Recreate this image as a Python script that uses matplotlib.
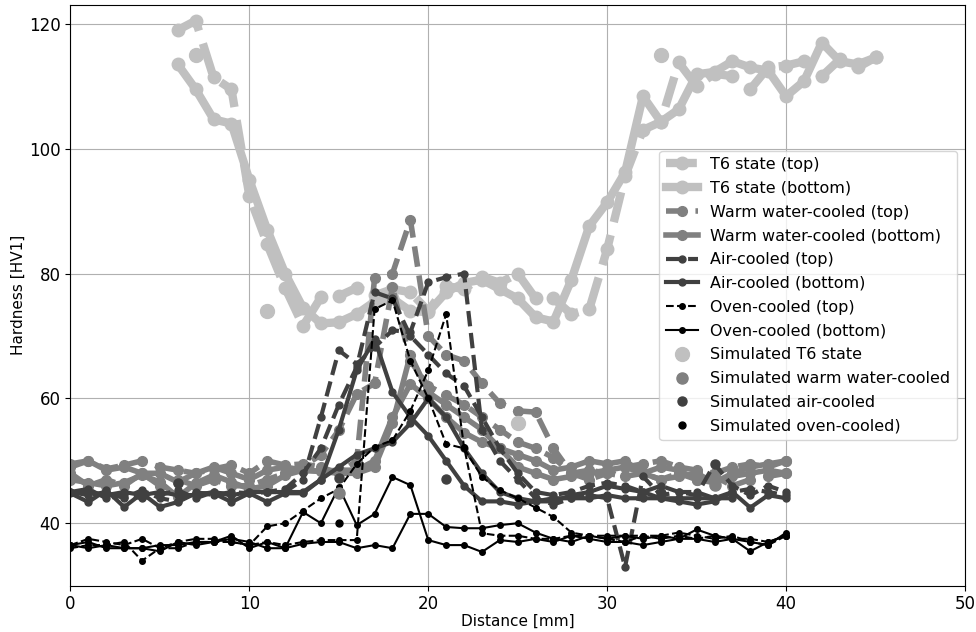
import numpy as np
import matplotlib
matplotlib.use('Agg')
import matplotlib.pyplot as plt

plt.rcParams['font.size'] = 12

# distance positions
x_t6 = list(range(6, 46))
x_all = list(range(0, 41))
x_air_b2 = list(range(0, 38))

# T6 state
t6_top = [119, 120.5, 111.4, 109.5, 92.4, 84.7, 77.7, 71.6, 76.2, 76.4,
          77.7, 76.5, 77.5, 77, 74, 78, 77.5, 79.5, 78.5, 80,
          76, 76, 73.5, 74.3, 83.9, 95.6, 103, 104.3, 113.8, 110,
          112, 111.6, 109.5, 113, 113.3, 114, 111.6, 114.3, 113, 114.6]
t6_bot = [113.5, 109.5, 104.7, 104, 95, 87, 80, 74.5, 72, 72.2,
          73.5, 75.5, 76, 74, 73.8, 77, 78.5, 79, 77.5, 76,
          73, 72.3, 79, 87.6, 91.4, 96.2, 108.4, 104.3, 106.3, 111.9,
          112.3, 114, 113, 112.5, 108.4, 110.8, 117, 114, 113.5, 114.6]

# warm water-cooled
warm_top1 = [49.5, 50, 48.7, 49.3, 50, 49, 48.5, 48, 48.7, 49.3,
             48, 50, 49.3, 49.5, 49, 48, 50, 79.3, 80, 88.6,
             70, 67, 66, 62.4, 59.2, 58, 57.8, 52, 48, 48.5,
             48, 49, 49.5, 50, 49, 48.5, 48, 49, 49.5, 49, 50]
warm_top2 = [48, 46, 47, 46, 48, 46, 47, 46, 47, 46,
             46, 47, 48, 49, 51, 54.9, 60.7, 62.4, 77.8, 66,
             62, 60.5, 59, 57, 55, 53, 52, 50.5, 48, 47,
             48, 47.5, 48, 47, 48, 47, 47.5, 46, 47, 47.5, 48]
warm_bot1 = [47, 46.5, 46, 46.5, 47.7, 46.6, 44.2, 46.4, 47.7, 46.6,
             45.5, 46, 47.7, 48.5, 48.3, 48, 48, 49, 56, 67,
             61, 59, 57, 55, 52, 49, 48, 47, 47.5, 48,
             48.5, 49, 48, 47, 47.5, 48, 46.5, 47.5, 48, 48.5, 48]
warm_bot2 = [49, 50, 48.5, 49, 48, 48, 46.6, 48, 49, 48,
             47, 48.5, 49, 48.5, 48.3, 48.5, 48.5, 50, 57, 62.3,
             60, 57, 54.5, 53, 52, 51, 50, 48.5, 49, 50,
             49.5, 50, 48, 49, 48.5, 47, 46.5, 48, 49, 49.5, 50]

# air-cooled
air_top1 = [45, 44.5, 45, 44, 45.3, 44, 43.5, 45, 44.5, 45,
            44.8, 45, 45, 47, 57, 67.7, 65.5, 68.2, 70.9, 70.6,
            78.6, 79.4, 80, 55, 50, 47, 44, 43, 44, 44.5,
            44, 33, 47.5, 44.5, 45, 45, 44, 45, 45.5, 45, 44.5]
air_top2 = [45, 45.5, 44, 44.5, 44, 44.5, 45.3, 44, 45, 44.5,
            45, 45, 45.5, 48, 52, 59, 65, 77, 76, 70,
            67, 64, 62, 57, 52, 48, 45, 44.5, 45, 46,
            46.5, 46, 45, 46, 45, 44.5, 49.5, 46, 44.5, 46, 45]
air_bot1 = [44.8, 43.4, 45.3, 42.6, 44.8, 42.6, 43.4, 44.8, 44.8, 43.4,
            44.8, 43.4, 44.8, 44.8, 47, 55, 64.5, 69.5, 61, 57,
            54, 50, 46, 43.5, 43.5, 43, 43.5, 43.5, 44.5, 45,
            46, 45.5, 45, 44, 43.5, 43, 43.5, 45, 42.5, 44.5, 44]
air_bot2 = [45, 45, 44.5, 45, 44.5, 45, 44.5, 44.5, 45, 44.5,
            45, 45, 45, 45, 47, 49, 51, 52, 53, 56,
            60, 57, 52, 48, 45, 44, 43.5, 44, 44, 44,
            44.5, 44, 44, 44, 44, 44, 44, 44]

# oven-cooled
oven_top1 = [36.5, 37.5, 37, 36.5, 37.5, 36, 37, 37.5, 37.5, 37,
             36.5, 37, 36.5, 37, 37.3, 37.3, 37.3, 74.3, 75.7, 66,
             60, 52.7, 52, 47.4, 45.3, 44, 42.5, 41, 38.5, 38,
             38, 38, 38, 37.5, 38, 37.5, 38, 37.5, 37.5, 37, 38]
oven_top2 = [36, 36.5, 36.5, 37, 34, 36, 36, 37, 37, 37,
             36.5, 39.5, 40, 42, 44, 45.5, 49.5, 52.2, 53.3, 58,
             64.5, 73.5, 52.2, 38.4, 38, 38, 37.5, 37.5, 38, 38,
             37.5, 37, 38, 38, 38.5, 38, 37.5, 38, 37, 36.5, 38]
oven_bot1 = [36.5, 37, 36, 36, 36, 35.5, 37, 36.5, 37, 38,
             36, 37, 36, 41.8, 40, 45.8, 39.7, 41.5, 47.4, 46.1,
             37.3, 36.5, 36.5, 35.4, 37.3, 37, 37.5, 37, 38, 37.5,
             37, 37, 36.5, 37, 37.5, 37.5, 37, 37.5, 35.5, 37, 38]
oven_bot2 = [36.5, 36, 36.5, 36, 36, 36.5, 36.5, 37, 37, 37.5,
             37, 36, 36, 36.7, 37, 37, 36, 36.5, 36, 41.5,
             41.5, 39.4, 39.2, 39.2, 39.7, 40, 38.5, 37.5, 37, 38,
             37.5, 38, 37.5, 38, 37.5, 39, 38, 37.5, 37, 36.5, 38.5]

# simulated values
sim_t6_x = [7, 11, 25, 33]
sim_t6_y = [115, 74, 56, 115]
sim_warm_x = [15, 36]
sim_warm_y = [44.8, 46.1]
sim_air_x = [6, 15, 21, 33, 36]
sim_air_y = [46.4, 47.3, 47.1, 44.8, 49.5]
sim_oven_x = [15]
sim_oven_y = [40]

c_t6 = '#c0c0c0'
c_warm = '#808080'
c_air = '#404040'
c_oven = 'black'

fig = plt.figure(figsize=(9.76, 6.32), dpi=100)
ax = fig.add_axes([0.0722, 0.0733, 0.9165, 0.9187])

ax.plot(x_t6, t6_top, '--o', color=c_t6, lw=6, ms=9, label='T6 state (top)')
ax.plot(x_t6, t6_bot, '-o', color=c_t6, lw=6, ms=9, label='T6 state (bottom)')

ax.plot(x_all, warm_top1, '--o', color=c_warm, lw=4, ms=7, label='Warm water-cooled (top)')
ax.plot(x_all, warm_bot1, '-o', color=c_warm, lw=4, ms=7, label='Warm water-cooled (bottom)')
ax.plot(x_all, warm_top2, '--o', color=c_warm, lw=4, ms=7)
ax.plot(x_all, warm_bot2, '-o', color=c_warm, lw=4, ms=7)

ax.plot(x_all, air_top1, '--o', color=c_air, lw=3, ms=5, label='Air-cooled (top)')
ax.plot(x_all, air_bot1, '-o', color=c_air, lw=3, ms=5, label='Air-cooled (bottom)')
ax.plot(x_all, air_top2, '--o', color=c_air, lw=3, ms=5)
ax.plot(x_air_b2, air_bot2, '-o', color=c_air, lw=3, ms=5)

ax.plot(x_all, oven_top1, '--o', color=c_oven, lw=1.5, ms=4, label='Oven-cooled (top)')
ax.plot(x_all, oven_bot1, '-o', color=c_oven, lw=1.5, ms=4, label='Oven-cooled (bottom)')
ax.plot(x_all, oven_top2, '--o', color=c_oven, lw=1.5, ms=4)
ax.plot(x_all, oven_bot2, '-o', color=c_oven, lw=1.5, ms=4)

ax.plot(sim_t6_x, sim_t6_y, 'o', color=c_t6, ms=10, label='Simulated T6 state')
ax.plot(sim_warm_x, sim_warm_y, 'o', color=c_warm, ms=8, label='Simulated warm water-cooled')
ax.plot(sim_air_x, sim_air_y, 'o', color=c_air, ms=6.5, label='Simulated air-cooled')
ax.plot(sim_oven_x, sim_oven_y, 'o', color=c_oven, ms=5, label='Simulated oven-cooled)')

ax.set_xlim(0, 50)
ax.set_ylim(30, 123)
ax.set_yticks([40, 60, 80, 100, 120])
ax.set_xlabel('Distance [mm]', fontsize=11, labelpad=0.5)
ax.set_ylabel('Hardness [HV1]', fontsize=11, labelpad=2)
ax.grid(True)
ax.legend(loc='center right', fontsize=11.5, labelspacing=0.55)

fig.savefig('out.png')
